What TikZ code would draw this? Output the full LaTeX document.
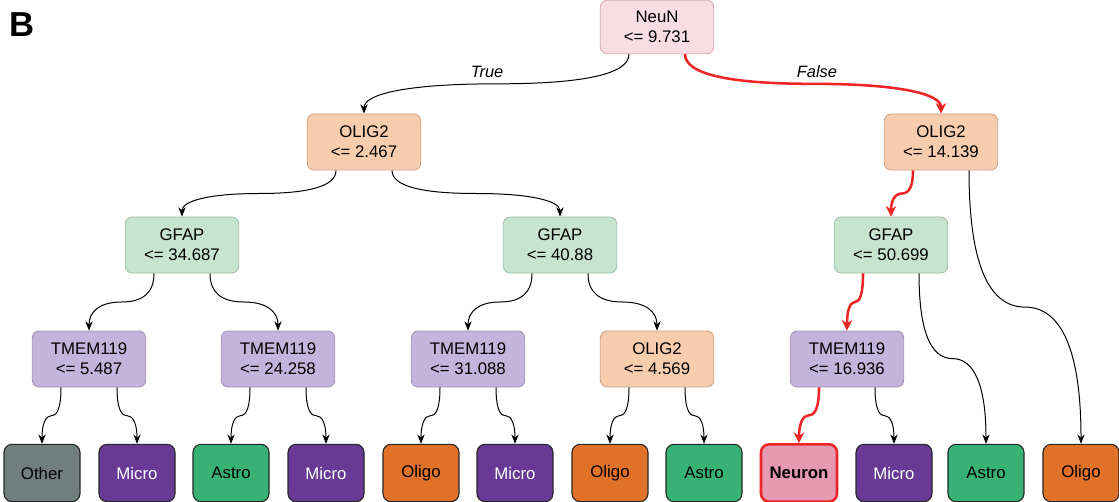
\documentclass[tikz,border=0pt]{standalone}
\usepackage{fontspec}
\setmainfont{Liberation Sans}
\usetikzlibrary{calc,arrows.meta}

\definecolor{neunfill}{HTML}{F8DDE4}
\definecolor{neunline}{HTML}{D7A9B1}
\definecolor{oligfill}{HTML}{F7CDAE}
\definecolor{oligline}{HTML}{C8A284}
\definecolor{gfapfill}{HTML}{C6E4CE}
\definecolor{gfapline}{HTML}{9EBFA6}
\definecolor{tmemfill}{HTML}{C2B4DA}
\definecolor{tmemline}{HTML}{9C90B4}
\definecolor{otherfill}{HTML}{707F7D}
\definecolor{microfill}{HTML}{683A95}
\definecolor{astrofill}{HTML}{37B274}
\definecolor{oligofill}{HTML}{E07128}
\definecolor{neuronfill}{HTML}{E69AB1}
\definecolor{pathred}{HTML}{EE2526}
\definecolor{leafline}{HTML}{262626}

\tikzset{
	splitbox/.style={rectangle, rounded corners=5pt, line width=0.6pt, minimum width=85pt, minimum height=42pt, inner sep=1pt, align=center, font=\fontsize{12.6}{15}\selectfont},
	neunbox/.style={splitbox, fill=neunfill, draw=neunline},
	oligbox/.style={splitbox, fill=oligfill, draw=oligline},
	gfapbox/.style={splitbox, fill=gfapfill, draw=gfapline},
	tmembox/.style={splitbox, fill=tmemfill, draw=tmemline},
	leaf/.style={rectangle, rounded corners=6pt, draw=leafline, line width=0.8pt, minimum width=57pt, minimum height=43pt, font=\fontsize{12.6}{15}\selectfont},
	otherleaf/.style={leaf, fill=otherfill},
	microleaf/.style={leaf, fill=microfill, text=white},
	astroleaf/.style={leaf, fill=astrofill},
	oligoleaf/.style={leaf, fill=oligofill},
	neuronleaf/.style={leaf, fill=neuronfill, draw=pathred, line width=1.9pt, font=\fontsize{12.6}{15}\selectfont\bfseries},
	branch/.style={draw=black, line width=0.75pt, -{Stealth[length=7pt,width=5.5pt]},
		to path={let \p1=(\tikztostart), \p2=(\tikztotarget) in
			.. controls (\x1,{(2*\y1+\y2)/3}) and ({(5*\x1+\x2)/6},{(\y1+\y2)/2}) .. ({(\x1+\x2)/2},{(\y1+\y2)/2})
			.. controls ({(\x1+5*\x2)/6},{(\y1+\y2)/2}) and (\x2,{(\y1+2*\y2)/3}) .. (\x2,\y2) \tikztonodes}},
	hot/.style={branch, draw=pathred, line width=1.9pt, -{Stealth[length=8pt,width=8pt]}},
	cond/.style={font=\fontsize{12.3}{15}\selectfont\itshape},
}

\begin{document}
\begin{tikzpicture}[x=0.75pt,y=-0.75pt]
	\useasboundingbox (0,0) rectangle (1119,502);
	\node[font=\fontsize{26}{26}\selectfont\bfseries] (panel) at (22,25) {B};

	\node[neunbox, minimum height=40pt] (neun) at (657,27) {NeuN\\<= 9.731};
	\node[oligbox] (olig1) at (364,142) {OLIG2\\<= 2.467};
	\node[oligbox] (olig2) at (941,142) {OLIG2\\<= 14.139};
	\node[gfapbox] (gfap1) at (182,245) {GFAP\\<= 34.687};
	\node[gfapbox] (gfap2) at (560,245) {GFAP\\<= 40.88};
	\node[gfapbox] (gfap3) at (891,245) {GFAP\\<= 50.699};
	\node[tmembox] (tmem1) at (89,359) {TMEM119\\<= 5.487};
	\node[tmembox] (tmem2) at (278,359) {TMEM119\\<= 24.258};
	\node[tmembox] (tmem3) at (468,359) {TMEM119\\<= 31.088};
	\node[oligbox] (olig3) at (657,359) {OLIG2\\<= 4.569};
	\node[tmembox] (tmem4) at (847,359) {TMEM119\\<= 16.936};

	\node[otherleaf] (other) at (42,473) {Other};
	\node[microleaf] (micro1) at (137,473) {Micro};
	\node[astroleaf] (astro1) at (231,473) {Astro};
	\node[microleaf] (micro2) at (326,473) {Micro};
	\node[oligoleaf] (oligo1) at (421,473) {Oligo};
	\node[microleaf] (micro3) at (515,473) {Micro};
	\node[oligoleaf] (oligo2) at (610,473) {Oligo};
	\node[astroleaf] (astro2) at (704,473) {Astro};
	\node[neuronleaf] (neuron) at (799,473) {Neuron};
	\node[microleaf] (micro4) at (894,473) {Micro};
	\node[astroleaf] (astro3) at (986,473) {Astro};
	\node[oligoleaf] (oligo3) at (1081,473) {Oligo};

	\draw[branch] ([xshift=-21pt]neun.south) to (olig1.north);
	\draw[hot] ([xshift=21pt]neun.south) to (olig2.north);
	\node[cond] (yes) at (487,72) {True};
	\node[cond] (no) at (817,72) {False};

	\draw[branch] ([xshift=-21pt]olig1.south) to (gfap1.north);
	\draw[branch] ([xshift=21pt]olig1.south) to (gfap2.north);
	\draw[hot] ([xshift=-21pt]olig2.south) to (gfap3.north);
	\draw[branch] ([xshift=21pt]olig2.south) to (oligo3.north);

	\draw[branch] ([xshift=-21pt]gfap1.south) to (tmem1.north);
	\draw[branch] ([xshift=21pt]gfap1.south) to (tmem2.north);
	\draw[branch] ([xshift=-21pt]gfap2.south) to (tmem3.north);
	\draw[branch] ([xshift=21pt]gfap2.south) to (olig3.north);
	\draw[hot] ([xshift=-21pt]gfap3.south) to (tmem4.north);
	\draw[branch] ([xshift=21pt]gfap3.south) to (astro3.north);

	\draw[branch] ([xshift=-21pt]tmem1.south) to (other.north);
	\draw[branch] ([xshift=21pt]tmem1.south) to (micro1.north);
	\draw[branch] ([xshift=-21pt]tmem2.south) to (astro1.north);
	\draw[branch] ([xshift=21pt]tmem2.south) to (micro2.north);
	\draw[branch] ([xshift=-21pt]tmem3.south) to (oligo1.north);
	\draw[branch] ([xshift=21pt]tmem3.south) to (micro3.north);
	\draw[branch] ([xshift=-21pt]olig3.south) to (oligo2.north);
	\draw[branch] ([xshift=21pt]olig3.south) to (astro2.north);
	\draw[hot] ([xshift=-21pt]tmem4.south) to (neuron.north);
	\draw[branch] ([xshift=21pt]tmem4.south) to (micro4.north);
\end{tikzpicture}
\end{document}
